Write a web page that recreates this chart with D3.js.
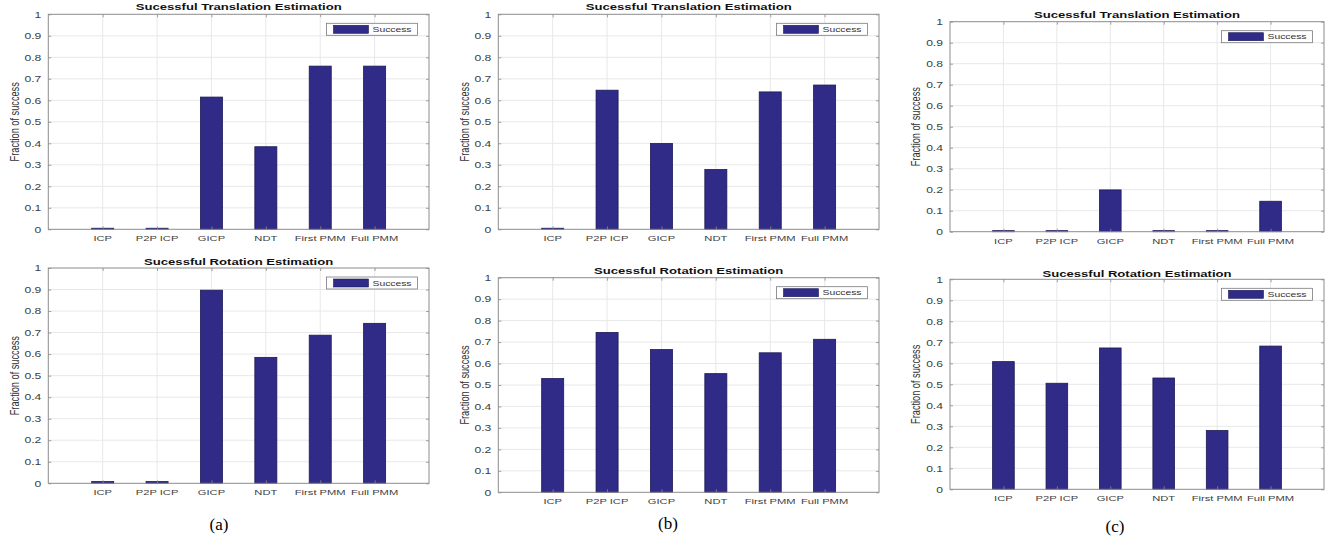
<!DOCTYPE html>
<html>
<head>
<meta charset="utf-8">
<script src="https://cdn.jsdelivr.net/npm/d3@7/dist/d3.min.js"></script>
<style>
  html, body { margin: 0; padding: 0; background: #ffffff; }
  svg { display: block; }
</style>
</head>
<body>
<svg id="fig" width="1338" height="544"></svg>
<script>
// ---- data ----
const categories = ["ICP", "P2P ICP", "GICP", "NDT", "First PMM", "Full PMM"];
const yTicks = [0, 0.1, 0.2, 0.3, 0.4, 0.5, 0.6, 0.7, 0.8, 0.9, 1];
const yTickLabels = ["0", "0.1", "0.2", "0.3", "0.4", "0.5", "0.6", "0.7", "0.8", "0.9", "1"];

const translationA = [0.005, 0.005, 0.615, 0.384, 0.759, 0.759];
const rotationA    = [0.008, 0.008, 0.897, 0.585, 0.688, 0.743];
const translationB = [0.005, 0.647, 0.399, 0.278, 0.639, 0.671];
const rotationB    = [0.530, 0.745, 0.665, 0.553, 0.650, 0.713];
const translationC = [0.005, 0.005, 0.199, 0.005, 0.005, 0.145];
const rotationC    = [0.608, 0.505, 0.673, 0.530, 0.280, 0.682];

const titleTranslation = "Sucessful Translation Estimation";
const titleRotation = "Sucessful Rotation Estimation";
const legendLabel = "Success";
const yAxisLabel = "Fraction of success";
const captions = ["(a)", "(b)", "(c)"];

// ---- layout of the six axes ----
const panels = [
  { values: translationA, title: titleTranslation, l: 48.3, r: 429,  t: 14.3,  b: 229.3, titleY: 10 },
  { values: rotationA,    title: titleRotation,    l: 48.3, r: 429,  t: 268,   b: 483.3, titleY: 265 },
  { values: translationB, title: titleTranslation, l: 498.3, r: 879, t: 14.3,  b: 229.3, titleY: 10 },
  { values: rotationB,    title: titleRotation,    l: 498.3, r: 879, t: 277.7, b: 492.3, titleY: 274 },
  { values: translationC, title: titleTranslation, l: 950,  r: 1324, t: 21.7,  b: 231.7, titleY: 18 },
  { values: rotationC,    title: titleRotation,    l: 950,  r: 1324, t: 279.3, b: 489.3, titleY: 276.5 }
];
const captionPos = [ { x: 219, y: 530 }, { x: 668, y: 529 }, { x: 1115, y: 532 } ];

const SX = 1.38;                 // horizontal stretch of the exported figure text
const barFill = "#2f2b87";
const barEdge = "#1c1a55";
const boxColor = "#8c8c8c";
const gridColor = "#e8e8e8";
const tickTextColor = "#404040";
const sans = "'Liberation Sans', Arial, Helvetica, sans-serif";

const svg = d3.select("#fig");

// text helper: stretched horizontally around its anchor
function stretchedText(g, x, y, str, opts) {
  const t = g.append("text")
    .attr("transform", `translate(${x},${y}) scale(${SX},1)` + (opts.rotate ? ` rotate(${opts.rotate})` : ""))
    .attr("text-anchor", opts.anchor || "middle")
    .attr("font-family", sans)
    .attr("font-size", opts.size)
    .attr("font-weight", opts.weight || "normal")
    .attr("fill", opts.fill || "#000")
    .text(str);
  if (opts.baseline) t.attr("dominant-baseline", opts.baseline);
  return t;
}

panels.forEach(p => {
  const g = svg.append("g");
  const x = d3.scalePoint().domain(categories).range([p.l, p.r]).padding(1);
  const y = d3.scaleLinear().domain([0, 1]).range([p.b, p.t]);
  const bw = x.step() * 0.405;

  // grid
  g.append("g").selectAll("line.hg").data(yTicks.slice(1, -1)).join("line")
    .attr("x1", p.l).attr("x2", p.r)
    .attr("y1", d => y(d)).attr("y2", d => y(d))
    .attr("stroke", gridColor).attr("stroke-width", 1);
  g.append("g").selectAll("line.vg").data(categories).join("line")
    .attr("x1", d => x(d)).attr("x2", d => x(d))
    .attr("y1", p.t).attr("y2", p.b)
    .attr("stroke", gridColor).attr("stroke-width", 1);

  // bars
  g.append("g").selectAll("rect").data(p.values).join("rect")
    .attr("x", (d, i) => x(categories[i]) - bw / 2)
    .attr("width", bw)
    .attr("y", d => y(d))
    .attr("height", d => Math.max(0, y(0) - y(d)))
    .attr("fill", barFill)
    .attr("stroke", barEdge)
    .attr("stroke-width", 0.8);

  // axes with inward ticks (left/right and top/bottom)
  const leftAxis = d3.axisLeft(y).tickValues(yTicks).tickSize(-3).tickFormat("");
  const rightAxis = d3.axisRight(y).tickValues(yTicks).tickSize(-3).tickFormat("");
  const bottomAxis = d3.axisBottom(x).tickSize(-3).tickFormat("");
  const topAxis = d3.axisTop(x).tickSize(-3).tickFormat("");
  [[leftAxis, `translate(${p.l},0)`], [rightAxis, `translate(${p.r},0)`],
   [bottomAxis, `translate(0,${p.b})`], [topAxis, `translate(0,${p.t})`]].forEach(([ax, tr]) => {
    const a = g.append("g").attr("transform", tr).call(ax);
    a.select(".domain").remove();
    a.selectAll(".tick line").attr("stroke", boxColor).attr("stroke-width", 0.8);
  });

  // axes box
  g.append("rect")
    .attr("x", p.l).attr("y", p.t)
    .attr("width", p.r - p.l).attr("height", p.b - p.t)
    .attr("fill", "none").attr("stroke", boxColor).attr("stroke-width", 1);

  // y tick labels
  yTicks.forEach((v, i) => {
    stretchedText(g, p.l - 7, y(v) + 3.2, yTickLabels[i], { anchor: "end", size: 8.8, fill: tickTextColor });
  });
  // x tick labels
  categories.forEach(c => {
    stretchedText(g, x(c), p.b + 12, c, { size: 8.1, fill: tickTextColor });
  });

  // y axis label
  stretchedText(g, p.l - 33, (p.t + p.b) / 2, yAxisLabel, { size: 9.2, rotate: -90, fill: "#333", baseline: "middle" });

  // title
  stretchedText(g, (p.l + p.r) / 2, p.titleY, p.title, { size: 9.5, weight: "bold", fill: "#111" });

  // legend
  const lw = 91, lh = 12;
  const lx = p.r - 11.5 - lw, ly = p.t + 9;
  g.append("rect").attr("x", lx).attr("y", ly).attr("width", lw).attr("height", lh)
    .attr("fill", "#fff").attr("stroke", "#7a7a7a").attr("stroke-width", 0.8);
  g.append("rect").attr("x", lx + 7).attr("y", ly + 2).attr("width", 35).attr("height", lh - 4)
    .attr("fill", barFill).attr("stroke", barEdge).attr("stroke-width", 0.6);
  stretchedText(g, lx + 46, ly + lh / 2 + 2.7, legendLabel, { anchor: "start", size: 7.5, fill: "#333" });
});

// sub-figure captions
svg.selectAll("text.cap").data(captions).join("text")
  .attr("class", "cap")
  .attr("x", (d, i) => captionPos[i].x)
  .attr("y", (d, i) => captionPos[i].y)
  .attr("text-anchor", "middle")
  .attr("font-family", "'Liberation Serif', 'Times New Roman', serif")
  .attr("font-size", 17)
  .attr("fill", "#000")
  .text(d => d);
</script>
</body>
</html>
